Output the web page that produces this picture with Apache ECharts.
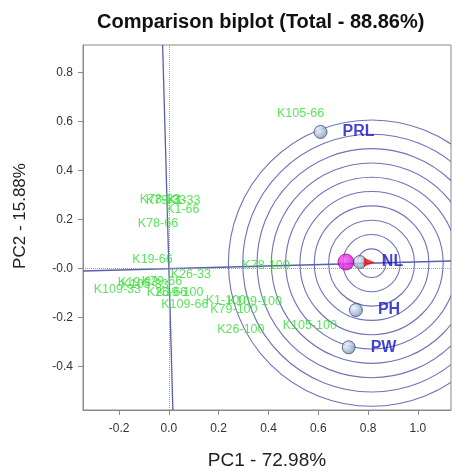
<!DOCTYPE html>
<html>
<head>
<meta charset="utf-8">
<script src="https://cdn.jsdelivr.net/npm/echarts@6/dist/echarts.min.js"></script>
<style>
  html, body { margin: 0; padding: 0; background: #fff; }
  #chart { width: 452px; height: 475px; }
</style>
</head>
<body>
<div id="chart"></div>
<script>
// genotypes (green labels), PC1 / PC2 scores
const genotypeNames = [
    "K105-66", "K78-33", "K79-33", "K1-33", "K1-66", "K78-66", "K19-66",
    "K26-33", "K78-100", "K109-33", "K19-33", "K105-33", "K79-66", "K26-66",
    "K19-100", "K109-66", "K1-100", "K109-100", "K79-100", "K26-100", "K105-100",
];
const genotypePC1 = [
    0.529, -0.036, -0.012, 0.060, 0.056, -0.044, -0.066,
    0.088, 0.390, -0.207, -0.124, -0.096, -0.028, -0.008,
    0.044, 0.064, 0.229, 0.345, 0.261, 0.289, 0.566,
];
const genotypePC2 = [
    0.632, 0.284, 0.278, 0.276, 0.242, 0.183, 0.036,
    -0.024, 0.012, -0.087, -0.055, -0.063, -0.051, -0.099,
    -0.099, -0.147, -0.131, -0.135, -0.167, -0.248, -0.232,
];

// traits (blue spheres)
const traitNames = ["PRL", "NL", "PH", "PW"];
const traitPC1 = [0.609, 0.767, 0.751, 0.722];
const traitPC2 = [0.558, 0.027, -0.169, -0.321];

const aecPoint = [0.711, 0.027];   // magenta average point
const idealPoint = [0.814, 0.0225]; // centre of the rings
const arrowPoint = [0.805, 0.026];
const ringRadii = [0.0575, 0.115, 0.1725, 0.23, 0.2875, 0.345, 0.4025, 0.46, 0.5175, 0.575];

const xRange = [-0.345, 1.133];
const yRange = [-0.577, 0.913];
const xTicks = [-0.2, 0, 0.2, 0.4, 0.6, 0.8, 1.0];
const xTickLabels = ["-0.2", "0.0", "0.2", "0.4", "0.6", "0.8", "1.0"];
const yTicks = [-0.4, -0.2, 0, 0.2, 0.4, 0.6, 0.8];
const yTickLabels = ["-0.4", "-0.2", "-0.0", "0.2", "0.4", "0.6", "0.8"];

const FONT = "'Liberation Sans', Arial, sans-serif";
const lineBlue = "#5a5fab";

const pickLabel = (ticks, labels) => (v) => {
    const i = ticks.findIndex((t) => Math.abs(t - v) < 1e-6);
    return i >= 0 ? labels[i] : "";
};

// line through origin along the ideal direction, and its perpendicular
const [ix, iy] = idealPoint;
const aeaLine = [
    [xRange[0], (xRange[0] * iy) / ix],
    [xRange[1], (xRange[1] * iy) / ix],
];
const perpLine = [
    [(-yRange[0] * iy) / ix, yRange[0]],
    [(-yRange[1] * iy) / ix, yRange[1]],
];

const myChart = echarts.init(document.getElementById("chart"));

const option = {
    animation: false,
    backgroundColor: "#fff",
    title: {
        text: "Comparison biplot (Total - 88.86%)",
        left: 97,
        top: 12,
        padding: 0,
        textStyle: { fontFamily: FONT, fontSize: 20, fontWeight: "bold", color: "#111" },
    },
    grid: {
        left: 83, top: 45, width: 368, height: 371,
        show: true, borderColor: "#8a8a8a", borderWidth: 1,
    },
    xAxis: {
        type: "value",
        min: xRange[0], max: xRange[1],
        name: "PC1 - 72.98%",
        nameLocation: "middle",
        nameGap: 41,
        nameTextStyle: { fontFamily: FONT, fontSize: 19, color: "#222" },
        axisLine: { show: true, onZero: false, lineStyle: { color: "#8a8a8a" } },
        axisTick: { show: true, length: 5, customValues: xTicks, lineStyle: { color: "#8a8a8a" } },
        axisLabel: {
            customValues: xTicks,
            formatter: pickLabel(xTicks, xTickLabels),
            margin: 13,
            fontFamily: FONT, fontSize: 12, color: "#333",
        },
        splitLine: { show: false },
    },
    yAxis: {
        type: "value",
        min: yRange[0], max: yRange[1],
        name: "PC2 - 15.88%",
        nameLocation: "middle",
        nameGap: 54,
        nameRotate: 90,
        nameTextStyle: { fontFamily: FONT, fontSize: 17, color: "#222", padding: [0, 0, 0, 23] },
        axisLine: { show: true, onZero: false, lineStyle: { color: "#8a8a8a" } },
        axisTick: { show: true, length: 5, customValues: yTicks, lineStyle: { color: "#8a8a8a" } },
        axisLabel: {
            customValues: yTicks,
            formatter: pickLabel(yTicks, yTickLabels),
            margin: 10,
            fontFamily: FONT, fontSize: 12, color: "#333",
        },
        splitLine: { show: false },
    },
    series: [
        {
            // concentric rings around the ideal point
            type: "custom",
            coordinateSystem: "cartesian2d",
            z: 1,
            silent: true,
            clip: true,
            data: ringRadii.map((r) => [ix, iy, r]),
            encode: { x: 0, y: 1 },
            renderItem: (params, api) => {
                const c = api.coord([api.value(0), api.value(1)]);
                const r = api.size([api.value(2), 0])[0];
                return {
                    type: "circle",
                    shape: { cx: c[0], cy: c[1], r: r },
                    style: { fill: null, stroke: "#6f73b6", lineWidth: 1.1 },
                };
            },
        },
        {
            type: "line",
            z: 2,
            data: aeaLine,
            symbol: "none",
            lineStyle: { color: lineBlue, width: 1.3 },
            markLine: {
                silent: true,
                symbol: ["none", "none"],
                label: { show: false },
                lineStyle: { type: "dotted", color: "#a0a0a0", width: 1 },
                data: [{ xAxis: 0 }, { yAxis: 0 }],
            },
        },
        {
            type: "line",
            z: 2,
            data: perpLine,
            symbol: "none",
            lineStyle: { color: lineBlue, width: 1.3 },
        },
        {
            type: "scatter",
            z: 3,
            symbolSize: 1,
            itemStyle: { color: "rgba(0,0,0,0)" },
            data: genotypeNames.map((n, i) => ({ name: n, value: [genotypePC1[i], genotypePC2[i]] })),
            label: {
                show: true,
                position: "inside",
                formatter: "{b}",
                fontFamily: FONT, fontSize: 12.5, color: "#33dd33",
            },
        },
        {
            type: "scatter",
            z: 4,
            symbolSize: 13,
            itemStyle: {
                color: new echarts.graphic.RadialGradient(0.35, 0.35, 0.75, [
                    { offset: 0, color: "#eef3fb" },
                    { offset: 1, color: "#6d8bb8" },
                ]),
                borderColor: "#3f4f75",
                borderWidth: 1,
            },
            data: traitNames.map((n, i) => ({ name: n, value: [traitPC1[i], traitPC2[i]] })),
            label: {
                show: true,
                position: "right",
                distance: 15,
                formatter: "{b}",
                fontFamily: FONT, fontSize: 16, fontWeight: "bold", color: "#1515c4",
            },
        },
        {
            type: "scatter",
            z: 5,
            symbolSize: 16,
            itemStyle: {
                color: new echarts.graphic.RadialGradient(0.4, 0.4, 0.7, [
                    { offset: 0, color: "#ff55ff" },
                    { offset: 1, color: "#c800c8" },
                ]),
                borderColor: "#7a007a",
                borderWidth: 0.8,
            },
            data: [aecPoint],
        },
        {
            type: "scatter",
            z: 5,
            symbol: "triangle",
            symbolSize: [9, 11],
            symbolRotate: -90,
            itemStyle: { color: "#ee1111" },
            data: [arrowPoint],
        },
    ],
};

myChart.setOption(option);
</script>
</body>
</html>
